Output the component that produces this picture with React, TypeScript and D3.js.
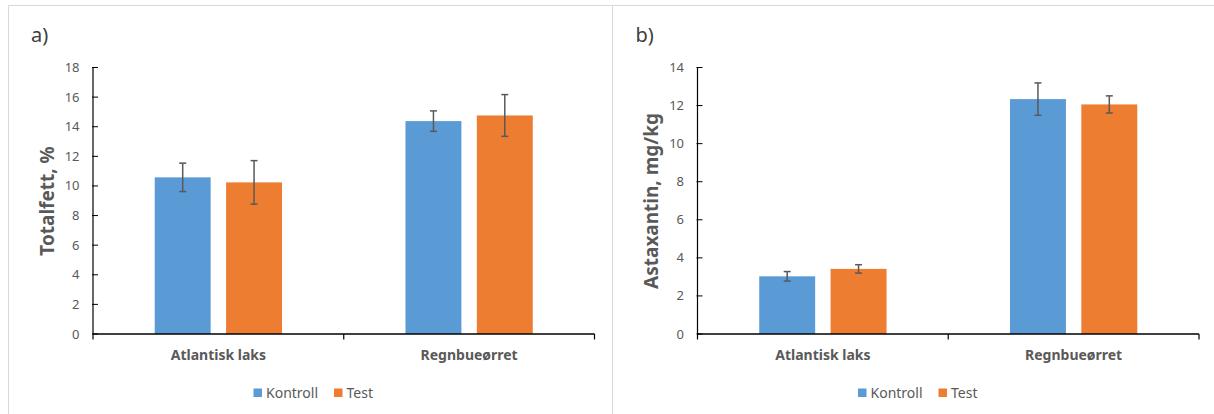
import React from "react";
import { scaleBand, scaleLinear } from "d3";

// data
const categories = ["Atlantisk laks", "Regnbueørret"];
const series = ["Kontroll", "Test"];

const fatKontroll = [10.58, 14.38];
const fatKontrollErr = [0.96, 0.69];
const fatTest = [10.24, 14.76];
const fatTestErr = [1.47, 1.41];
const fatTicks = [0, 2, 4, 6, 8, 10, 12, 14, 16, 18];

const astaKontroll = [3.03, 12.34];
const astaKontrollErr = [0.25, 0.85];
const astaTest = [3.42, 12.06];
const astaTestErr = [0.22, 0.45];
const astaTicks = [0, 2, 4, 6, 8, 10, 12, 14];

const colors = ["#5B9BD5", "#ED7D31"];
const textColor = "#595959";
const font = "'Noto Sans', 'Open Sans', sans-serif";

type PanelProps = {
  dx: number;
  label: string;
  title: string;
  ticks: number[];
  values: number[][];
  errors: number[][];
};

function Panel({ dx, label, title, ticks, values, errors }: PanelProps) {
  const left = 93 + dx;
  const right = 594.5 + dx;
  const top = 67.5;
  const bottom = 334;

  const y = scaleLinear()
    .domain([0, ticks[ticks.length - 1]])
    .range([bottom, top]);

  const x0 = scaleBand<string>().domain(categories).range([left, right]);
  const x1 = scaleBand<string>()
    .domain(series)
    .range([0, x0.bandwidth()])
    .paddingInner(0.216)
    .paddingOuter(0.865);

  const xTicks = [...categories.map((c) => x0(c) as number), right];

  return (
    <g>
      <text
        x={dx + 31}
        y={41.5}
        fontSize={20}
        fill="#404040"
        fontFamily={font}
      >
        {label}
      </text>

      {/* y ticks + labels */}
      {ticks.map((t) => (
        <g key={t}>
          <line x1={left - 1} x2={left + 5} y1={y(t)} y2={y(t)} stroke="#000" strokeWidth={1} />
          <text
            x={left - 13.5}
            y={y(t)}
            dy="0.35em"
            textAnchor="end"
            fontSize={13}
            fill={textColor}
            fontFamily={font}
          >
            {t}
          </text>
        </g>
      ))}

      <text
        transform={`translate(${dx + 53.5},201) rotate(-90)`}
        textAnchor="middle"
        fontSize={19}
        fontWeight="bold"
        fill={textColor}
        fontFamily={font}
      >
        {title}
      </text>

      {/* bars */}
      {series.map((s, si) =>
        categories.map((c, ci) => {
          const bx = (x0(c) as number) + (x1(s) as number);
          const v = values[si][ci];
          const e = errors[si][ci];
          const cx = bx + x1.bandwidth() / 2;
          return (
            <g key={s + c}>
              <rect
                x={bx}
                y={y(v)}
                width={x1.bandwidth()}
                height={bottom - y(v)}
                fill={colors[si]}
              />
              <g stroke="#595959" strokeWidth={1.5}>
                <line x1={cx} x2={cx} y1={y(v + e)} y2={y(v - e)} />
                <line x1={cx - 3.5} x2={cx + 3.5} y1={y(v + e)} y2={y(v + e)} />
                <line x1={cx - 3.5} x2={cx + 3.5} y1={y(v - e)} y2={y(v - e)} />
              </g>
            </g>
          );
        })
      )}

      {/* axes */}
      <line x1={left} x2={left} y1={top} y2={bottom} stroke="#000" strokeWidth={1.2} />
      <line x1={left} x2={right} y1={bottom} y2={bottom} stroke="#000" strokeWidth={1.3} />
      {xTicks.map((t, i) => (
        <line key={i} x1={t} x2={t} y1={bottom} y2={bottom + 5.5} stroke="#000" strokeWidth={1.2} />
      ))}

      {categories.map((c) => (
        <text
          key={c}
          x={(x0(c) as number) + x0.bandwidth() / 2}
          y={359.5}
          textAnchor="middle"
          fontSize={14}
          fontWeight="bold"
          fill={textColor}
          fontFamily={font}
        >
          {c}
        </text>
      ))}

      {/* legend */}
      {series.map((s, i) => {
        const lx = dx + (i === 0 ? 253.5 : 334);
        return (
          <g key={s}>
            <rect x={lx} y={388.5} width={8.5} height={8.5} fill={colors[i]} />
            <text
              x={lx + 12.5}
              y={397.5}
              fontSize={14}
              fill={textColor}
              fontFamily={font}
            >
              {s}
            </text>
          </g>
        );
      })}
    </g>
  );
}

export default function App() {
  return (
    <div style={{ position: "absolute", left: 0, top: 0 }}>
      <svg width={1214} height={414} style={{ display: "block", background: "#fff" }}>
        <rect x={8.5} y={5.5} width={604} height={420} fill="none" stroke="#d9d9d9" />
        <rect x={612.5} y={5.5} width={620} height={420} fill="none" stroke="#d9d9d9" />
        <Panel
          dx={0}
          label="a)"
          title="Totalfett, %"
          ticks={fatTicks}
          values={[fatKontroll, fatTest]}
          errors={[fatKontrollErr, fatTestErr]}
        />
        <Panel
          dx={604.5}
          label="b)"
          title="Astaxantin, mg/kg"
          ticks={astaTicks}
          values={[astaKontroll, astaTest]}
          errors={[astaKontrollErr, astaTestErr]}
        />
      </svg>
    </div>
  );
}
